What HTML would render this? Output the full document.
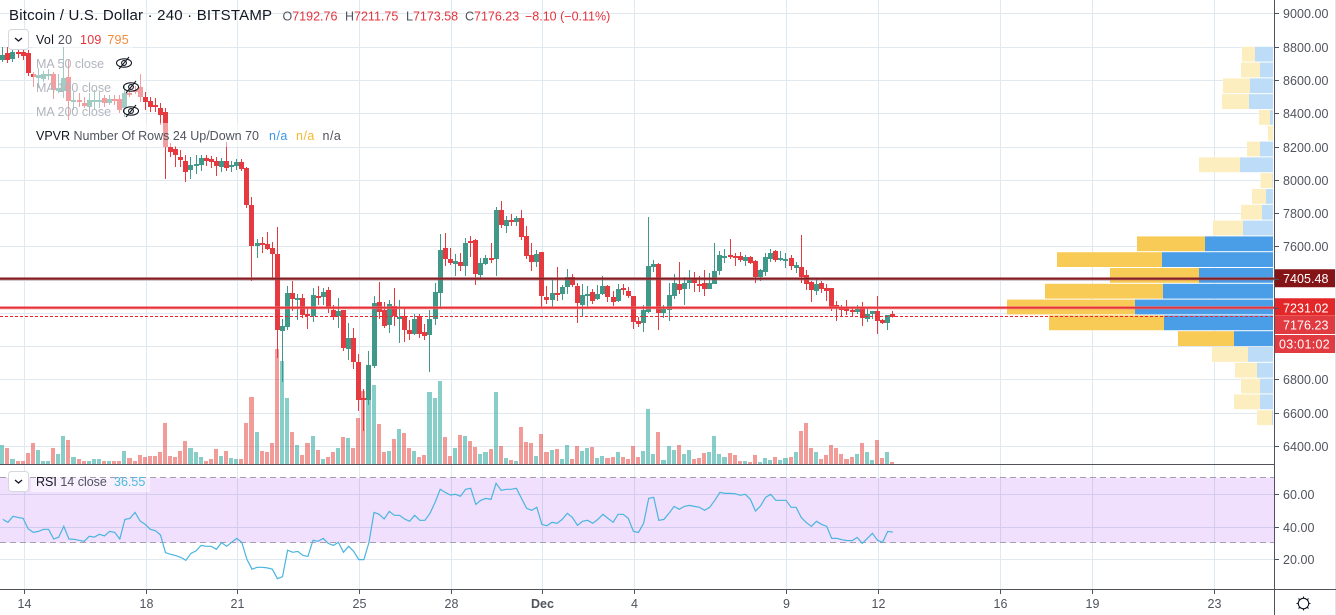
<!DOCTYPE html>
<html lang="en">
<head>
<meta charset="utf-8">
<title>Bitcoin / U.S. Dollar 240 BITSTAMP</title>
<style>
html,body{margin:0;padding:0;background:#fff;width:1336px;height:615px;overflow:hidden}
svg{display:block;font-family:"Liberation Sans","DejaVu Sans",sans-serif}
#grid-layer{mix-blend-mode:multiply}
</style>
</head>
<body>
<svg id="chart" xmlns="http://www.w3.org/2000/svg" width="1336" height="615" viewBox="0 0 1336 615">
  <rect x="0" y="0" width="1336" height="615" fill="#ffffff"/>
  <g id="rsi-band-layer"></g>
  <g id="grid-layer"></g>
  <g id="volume-layer"></g>
  <g id="vpvr-layer"></g>
  <g id="candle-layer"></g>
  <g id="legend-backs">
    <rect x="33" y="29" width="100" height="22" fill="#fff" fill-opacity=".5"/>
    <rect x="33" y="51" width="110" height="72" fill="#fff" fill-opacity=".5"/>
    <rect x="33" y="123" width="317" height="24" fill="#fff" fill-opacity=".5"/>
    <rect x="31" y="471" width="119" height="21" fill="#fff" fill-opacity=".5"/>
  </g>
  <g id="level-layer"></g>
  <g id="rsi-layer"></g>
  <rect x="1274" y="0" width="62" height="615" fill="#ffffff"/>
  <rect x="0" y="589" width="1336" height="26" fill="#ffffff"/>
  <g id="axis-layer"></g>
  <g>
    <text x="9" y="20" font-size="15" letter-spacing=".2" fill="#131722">Bitcoin / U.S. Dollar · 240 · BITSTAMP</text>
    <text x="282.5" y="20.5" font-size="12.5" fill="#e5333c"><tspan fill="#50535e">O</tspan>7192.76</text>
    <text x="345" y="20.5" font-size="12.5" fill="#e5333c"><tspan fill="#50535e">H</tspan>7211.75</text>
    <text x="406" y="20.5" font-size="12.5" fill="#e5333c"><tspan fill="#50535e">L</tspan>7173.58</text>
    <text x="465" y="20.5" font-size="12.5" fill="#e5333c"><tspan fill="#50535e">C</tspan>7176.23</text>
    <text x="525" y="20.5" font-size="12.5" fill="#e5333c">−8.10 (−0.11%)</text>

    <g>
      <rect x="8.5" y="29.5" width="20" height="20" rx="3" fill="#fff" stroke="#d6d8e0"/>
      <polyline points="15,38 18.5,41 22,38" fill="none" stroke="#131722" stroke-width="1.3"/>
    </g>
    <text x="36" y="44" font-size="12.5" letter-spacing=".25" fill="#50535e"><tspan fill="#131722">Vol</tspan> 20 <tspan dx="4" fill="#e5333c">109</tspan> <tspan dx="2" fill="#f08a3c">795</tspan></text>
    <text x="36" y="68" font-size="12.5" fill="#b2b5be">MA 50 close</text>
    <text x="36" y="92" font-size="12.5" fill="#b2b5be">MA 100 close</text>
    <text x="36" y="116" font-size="12.5" fill="#b2b5be">MA 200 close</text>
    <g transform="translate(124,63)" fill="none" stroke="#131722" stroke-width="1.1">
      <ellipse cx="0" cy="0" rx="7.5" ry="4.2"/><circle cx="0" cy="0" r="2.4"/><line x1="-5" y1="6" x2="5" y2="-6"/>
    </g>
    <g transform="translate(131,87)" fill="none" stroke="#131722" stroke-width="1.1">
      <ellipse cx="0" cy="0" rx="7.5" ry="4.2"/><circle cx="0" cy="0" r="2.4"/><line x1="-5" y1="6" x2="5" y2="-6"/>
    </g>
    <g transform="translate(131,111)" fill="none" stroke="#131722" stroke-width="1.1">
      <ellipse cx="0" cy="0" rx="7.5" ry="4.2"/><circle cx="0" cy="0" r="2.4"/><line x1="-5" y1="6" x2="5" y2="-6"/>
    </g>
    <text x="36" y="140" font-size="12.5" fill="#50535e"><tspan fill="#131722">VPVR</tspan> Number Of Rows 24 Up/Down 70</text>
    <text x="269" y="140" font-size="12.5" letter-spacing=".5" fill="#3d96e6">n/a</text>
    <text x="296" y="140" font-size="12.5" letter-spacing=".5" fill="#f5b92e">n/a</text>
    <text x="322.5" y="140" font-size="12.5" letter-spacing=".5" fill="#50535e">n/a</text>

    <g>
      <rect x="8.5" y="471.5" width="20" height="20" rx="3" fill="#fff" stroke="#d6d8e0"/>
      <polyline points="15,480 18.5,483 22,480" fill="none" stroke="#131722" stroke-width="1.3"/>
    </g>
    <text x="36" y="486" font-size="12.5" fill="#50535e"><tspan fill="#131722">RSI</tspan> 14 close</text>
    <text x="114" y="486" font-size="12.5" fill="#4bbbd9">36.55</text>
  </g>
  <g transform="translate(1303.5,603.5)" fill="none" stroke="#131722">
    <circle cx="0" cy="0" r="5.2" stroke-width="1.1"/>
    <path d="M0-7V-5.2M0 5.2V7M-7 0H-5.2M5.2 0H7M-5 -5L-3.7 -3.7M3.7 3.7L5 5M5 -5L3.7 -3.7M-3.7 3.7L-5 5" stroke-width="1.1"/>
  </g>
</svg>
<script>
// ---- chart data ----
const opens = [8720,8762,8726,8768,8768,8762,8636,8612,8606,8624,8636,8534,8534,8618,8468,8480,8462,8438,8468,8474,8492,8462,8486,8486,8432,8522,8540,8558,8498,8474,8450,8432,8408,8197,8185,8137,8113,8059,8083,8089,8131,8125,8113,8077,8113,8077,8083,8107,8071,7849,7602,7620,7614,7590,7554,7091,7115,7320,7278,7290,7194,7181,7302,7296,7338,7218,7181,7218,6983,7049,6905,6689,6677,6881,7266,7218,7127,7242,7163,7181,7097,7073,7181,7085,7067,7163,7320,7590,7524,7494,7506,7482,7632,7638,7428,7494,7530,7524,7819,7722,7759,7747,7771,7662,7548,7506,7566,7296,7278,7320,7314,7356,7416,7362,7248,7302,7326,7284,7314,7362,7296,7272,7350,7332,7302,7151,7139,7206,7476,7494,7200,7218,7302,7374,7344,7380,7410,7374,7380,7344,7374,7452,7536,7548,7542,7542,7512,7536,7512,7416,7446,7524,7572,7518,7512,7530,7470,7476,7428,7386,7332,7380,7350,7350,7248,7236,7236,7218,7206,7236,7163,7194,7212,7157,7139,7192.76];
const highs = [8798,8798,8792,8798,8792,8780,8648,8672,8654,8666,8648,8636,8798,8720,8528,8522,8498,8522,8540,8528,8510,8510,8510,8510,8570,8540,8564,8636,8528,8498,8492,8462,8432,8221,8203,8179,8149,8137,8149,8149,8149,8143,8137,8131,8227,8113,8125,8125,8077,7897,7644,7656,7686,7626,7716,7163,7362,7392,7314,7314,7230,7350,7362,7350,7356,7248,7290,7218,7139,7109,6953,6743,6971,7302,7386,7266,7278,7350,7278,7236,7157,7194,7194,7133,7218,7380,7674,7680,7590,7554,7560,7650,7662,7644,7530,7548,7620,7837,7873,7783,7795,7783,7819,7722,7620,7578,7566,7362,7398,7476,7368,7464,7434,7380,7374,7362,7344,7368,7422,7368,7332,7374,7374,7356,7302,7175,7248,7777,7518,7500,7248,7380,7434,7506,7416,7458,7446,7422,7458,7440,7620,7572,7584,7644,7560,7566,7548,7542,7518,7464,7560,7584,7578,7572,7560,7548,7506,7668,7458,7392,7404,7392,7374,7350,7272,7248,7278,7236,7248,7266,7230,7212,7302,7163,7187,7211.75];
const lows = [8708,8702,8708,8732,8720,8624,8558,8552,8588,8600,8486,8522,8492,8360,8420,8438,8432,8408,8420,8432,8438,8450,8450,8402,8378,8498,8516,8468,8420,8408,8408,8330,8005,8137,8077,8077,7987,8005,8035,8053,8083,8071,8023,8047,8053,8047,8059,8053,7831,7392,7530,7560,7578,7398,6929,6785,7097,7212,7157,7169,7103,7145,7248,7248,7200,7157,7109,6971,6917,6863,6610,6490,6646,6869,7163,7109,7079,7121,7019,7025,7037,7067,7049,7037,6845,7127,7224,7482,7488,7422,7452,7422,7536,7368,7410,7488,7500,7422,7710,7680,7722,7722,7638,7524,7452,7476,7236,7254,7236,7272,7278,7314,7356,7139,7181,7230,7254,7278,7308,7266,7242,7266,7308,7290,7103,7115,7085,7200,7446,7097,7169,7151,7284,7314,7248,7344,7326,7326,7302,7344,7374,7428,7500,7524,7482,7506,7482,7494,7380,7392,7422,7506,7506,7512,7470,7458,7440,7380,7338,7266,7308,7320,7272,7212,7151,7175,7187,7175,7194,7121,7145,7163,7073,7133,7097,7173.58];
const closes = [8750,8720,8768,8756,8744,8642,8618,8630,8636,8636,8540,8552,8612,8474,8480,8468,8444,8480,8480,8480,8462,8486,8474,8420,8522,8510,8528,8498,8468,8438,8438,8390,8197,8167,8149,8119,8047,8089,8095,8131,8113,8107,8083,8113,8071,8089,8107,8065,7849,7602,7620,7608,7584,7554,7097,7121,7320,7284,7290,7187,7181,7308,7296,7326,7230,7175,7212,6989,7049,6905,6677,6677,6887,7260,7206,7121,7254,7181,7175,7097,7073,7163,7073,7061,7163,7326,7578,7524,7500,7512,7482,7620,7620,7434,7500,7530,7518,7819,7728,7759,7747,7771,7656,7542,7506,7554,7302,7278,7320,7308,7356,7416,7368,7260,7308,7314,7272,7314,7362,7296,7266,7344,7338,7302,7145,7133,7218,7482,7494,7200,7224,7308,7380,7338,7380,7398,7380,7368,7344,7380,7452,7548,7542,7536,7536,7518,7536,7500,7416,7458,7536,7560,7518,7530,7524,7482,7488,7416,7374,7338,7374,7344,7332,7230,7230,7218,7212,7206,7224,7169,7194,7212,7151,7139,7187,7176.23];
const volumes = [1900,1600,500,300,300,1100,2100,1400,300,300,1600,1000,2800,2400,700,500,300,300,500,500,300,300,300,300,1300,600,300,900,700,800,800,1200,4100,800,700,1300,2300,1600,1200,700,300,500,1500,800,1300,600,500,500,4100,6700,3200,1300,1200,2100,11500,10300,6600,3200,1900,900,2100,2800,1400,500,700,1200,1600,2700,2600,1600,4600,7300,8900,7900,4000,1200,1300,2500,3500,3100,1600,1300,700,900,7200,6600,8300,2700,800,1600,2900,2800,2300,1700,1000,1200,1500,7200,1800,600,400,300,3700,2200,2100,800,3000,1200,1400,1500,500,1900,500,1800,1300,1600,1700,600,800,600,700,1200,700,500,1800,700,1300,5500,1000,3200,400,1800,1400,1900,1000,1400,500,600,1100,1200,2800,1000,700,1100,900,300,300,200,900,200,600,400,700,400,600,700,1200,3300,4100,1600,1200,500,900,1900,1600,1000,500,700,1000,2100,1200,400,2400,600,1200,200];
const rsiValues = [44.4,42.6,46.3,45.6,45.0,38.5,36.4,37.0,38.3,38.3,32.3,33.5,40.1,32.3,32.1,31.5,30.9,34.0,33.5,35.2,34.2,37.0,36.4,32.3,44.4,45.0,48.7,43.4,41.3,38.3,37.4,34.8,23.9,22.9,22.1,21.0,19.2,23.5,25.0,28.4,27.8,27.8,26.0,30.1,27.8,30.3,32.7,30.3,19.8,13.7,14.9,14.9,14.5,13.7,7.9,9.1,25.4,24.1,24.7,22.3,21.6,31.5,30.9,32.7,29.6,28.4,30.3,24.1,27.8,24.7,19.6,19.6,30.3,48.7,47.5,44.6,49.3,46.9,46.9,44.6,43.2,46.9,43.8,43.8,48.1,54.9,62.9,61.0,59.4,59.8,58.6,62.9,63.5,53.6,56.1,57.3,56.7,66.6,62.3,62.9,62.9,63.5,57.3,51.2,50.0,51.8,41.3,40.5,42.6,42.0,44.4,48.1,45.6,40.7,43.2,43.8,42.0,44.4,47.5,45.0,42.6,47.5,47.5,45.0,37.0,36.4,42.0,57.3,58.0,43.8,44.4,48.1,52.4,50.6,52.4,53.0,52.4,51.8,50.0,51.8,56.1,61.0,60.4,60.4,60.2,59.2,59.8,56.7,49.5,52.6,58.0,59.8,56.1,56.1,56.1,51.8,51.8,45.6,42.4,40.1,43.2,41.3,40.1,32.7,32.7,31.9,31.3,31.3,33.3,29.6,32.7,35.8,31.5,30.3,37.0,36.55];
const profileUp = [720,520,920,960,120,0,520,1320,20,280,440,1200,2720,4440,2960,4400,5520,4360,1560,1000,640,520,520,40];
const profileDown = [520,760,1080,1080,440,200,520,1640,480,560,840,1200,2720,4200,3560,4720,5120,4600,2240,1440,880,760,1040,600];
const valueAreaRows = [12,13,14,15,16,17,18];
const priceTicks = ["9000.00","8800.00","8600.00","8400.00","8200.00","8000.00","7800.00","7600.00","6800.00","6600.00","6400.00"];
const gridPrices = [9000,8800,8600,8400,8200,8000,7800,7600,7400,7200,7000,6800,6600,6400];
const rsiTicks = ["60.00","40.00","20.00"];
const timeLabels = ["14","18","21","25","28","Dec","4","9","12","16","19","23"];
const timeBars = [4,28,46,70,88,106,124,154,172,196,214,238];
const levelPrices = [7405.48,7231.02];
const levelLabels = ["7405.48","7231.02"];
const lastPrice = 7176.23;
const lastLabel = "7176.23";
const countdownLabel = "03:01:02";

// ---- axis functions ----
const xBar = i => 2.8 + 5.0855 * i;
const yPrice = p => 446 - (p - 6400) * 0.16635;
const yVolume = v => 464 - v / 100;
const yRsi = r => 559 - (r - 20) * 1.625;
const xProfile = v => 1273 - v * 0.025;
const leftOf = i => Math.round(xBar(i) - 2.5);
const tickX = i => Math.floor(xBar(i) + 1) + 0.5;
const profileTop = 8800, profileStep = 95;

const NS = "http://www.w3.org/2000/svg";
function mk(tag, parent, attrs, text) {
  const el = document.createElementNS(NS, tag);
  for (const k in attrs) el.setAttribute(k, attrs[k]);
  if (text !== undefined) el.textContent = text;
  parent.appendChild(el);
  return el;
}
const $ = id => document.getElementById(id);
const gridColor = "#dfe9f1";
let el;

// grid
const grid = $("grid-layer");
gridPrices.forEach(p => {
  el = mk("line", grid, {x1:0, x2:1274, y1:Math.round(yPrice(p)) + .5, y2:Math.round(yPrice(p)) + .5, stroke:gridColor});
  
  
});
timeBars.forEach(b => {
  el = mk("line", grid, {x1:tickX(b), x2:tickX(b), y1:0, y2:589, stroke:gridColor});
  
  
});
rsiTicks.forEach(t => {
  const y = Math.round(yRsi(parseFloat(t))) + .5;
  el = mk("line", grid, {x1:0, x2:1274, y1:y, y2:y, stroke:gridColor});
  
  
});

// rsi band (drawn under the grid so grid lines show through)
const band = $("rsi-band-layer");
el = mk("rect", band, {x:0, y:yRsi(70), width:1274, height:yRsi(30) - yRsi(70), fill:"#f0e0fd"});



// bars
const volLayer = $("volume-layer"), candleLayer = $("candle-layer");
const upColor = "#409888", downColor = "#e43a40";
opens.forEach((o, i) => {
  const c = closes[i], up = c >= o;
  const left = leftOf(i);
  const nextLeft = leftOf(i + 1);
  const color = up ? upColor : downColor;

  el = mk("rect", volLayer, {x:left, y:yVolume(volumes[i]), width:Math.max(nextLeft - left - 1, 4), height:464 - yVolume(volumes[i]),
    fill: up ? "#26a69a" : "#e53935", "fill-opacity": up ? .55 : .5, "shape-rendering":"crispEdges"});
  
  

  el = mk("rect", candleLayer, {x:left + 2, y:yPrice(highs[i]), width:1, height:yPrice(lows[i]) - yPrice(highs[i]), fill:color, "shape-rendering":"crispEdges"});
  
  

  const top = yPrice(Math.max(o, c)), bot = yPrice(Math.min(o, c));
  el = mk("rect", candleLayer, {x:left, y:top, width:5, height:Math.max(bot - top, 2), fill:color, "shape-rendering":"crispEdges"});
  
  
});

// volume profile
const vp = $("vpvr-layer");
profileUp.forEach((u, r) => {
  const d = profileDown[r];
  const inVA = valueAreaRows.includes(r);
  const y = yPrice(profileTop - profileStep * r);
  const h = profileStep * 0.16635 - 1;
  el = mk("rect", vp, {x:xProfile(u), y:y, width:1273 - xProfile(u), height:h, fill: inVA ? "#4a9ee8" : "#bcdcf7"});
  
  
  el = mk("rect", vp, {x:xProfile(u + d), y:y, width:xProfile(u) - xProfile(u + d), height:h, fill: inVA ? "#f8cb56" : "#fdeebf"});
  
  
});

// horizontal levels
const lv = $("level-layer");
const levelHalo = ["#a34a4e", "#ee6a6f"], levelCore = ["#7d1518", "#e5282f"];
levelPrices.forEach((p, k) => {
  const y = yPrice(p);
  el = mk("line", lv, {x1:0, x2:1274, y1:y, y2:y, stroke:levelHalo[k], "stroke-width":3, "stroke-opacity":.85});
  
  
  el = mk("line", lv, {x1:0, x2:1274, y1:y, y2:y, stroke:levelCore[k], "stroke-width":1.2});
  
  
});
el = mk("line", lv, {x1:0, x2:1274, y1:Math.floor(yPrice(lastPrice)) + .5, y2:Math.floor(yPrice(lastPrice)) + .5, stroke:"#f0202c", "stroke-dasharray":"3 2"});



// rsi
const rsi = $("rsi-layer");
[70, 30].forEach(v => {
  const y = Math.round(yRsi(v)) - .5;
  el = mk("line", rsi, {x1:0, x2:1274, y1:y, y2:y, stroke:"#a89cae", "stroke-dasharray":"6 4"});
  
  
});
el = mk("polyline", rsi, {points:rsiValues.map((v, i) => xBar(i).toFixed(1) + "," + yRsi(v).toFixed(1)).join(" "), fill:"none", stroke:"#4ab5e0", "stroke-width":1.2});



// axes
const ax = $("axis-layer");
const axisDark = "#50535e";
el = mk("rect", ax, {x:1335, y:0, width:1, height:615, fill:"#e0e3eb"});


el = mk("line", ax, {x1:1274.5, x2:1274.5, y1:0, y2:615, stroke:axisDark});


el = mk("line", ax, {x1:0, x2:1274, y1:464.5, y2:464.5, stroke:axisDark});


el = mk("line", ax, {x1:0, x2:1336, y1:589.5, y2:589.5, stroke:axisDark});



function axisTick(y) {
  el = mk("line", ax, {x1:1275, x2:1279, y1:y, y2:y, stroke:axisDark});
  
  
}
function axisText(label, y, fill) {
  el = mk("text", ax, {x:1283, y:y + 4.5, "font-size":12.5, fill:fill, "letter-spacing":".05"}, label);
  
  
}
priceTicks.forEach(t => {
  const y = Math.round(yPrice(parseFloat(t))) + .5;
  axisTick(y);
  axisText(t, y, axisDark);
});
rsiTicks.forEach(t => {
  const y = Math.round(yRsi(parseFloat(t))) + .5;
  axisTick(y);
  axisText(t, y, axisDark);
});
const levelBg = ["#851416", "#e32728"];
const levelTagH = [18, 17.5];
levelPrices.forEach((p, k) => {
  const y = yPrice(p);
  el = mk("rect", ax, {x:1275, y:y - 9.5, width:60, height:levelTagH[k], fill:levelBg[k]});
  
  
  axisTick(Math.round(y) + .5);
  axisText(levelLabels[k], y, "#ffffff");
});
el = mk("rect", ax, {x:1275, y:316, width:60, height:18, fill:"#e23a41"});


axisText(lastLabel, yPrice(lastPrice) + 8, "#ffffff");
el = mk("rect", ax, {x:1275, y:335, width:60, height:18, fill:"#e23a41"});


el = mk("text", ax, {x:1279, y:348.5, "font-size":12.5, fill:"#ffffff", "letter-spacing":".3"}, countdownLabel);



timeBars.forEach((b, k) => {
  const x = tickX(b);
  el = mk("line", ax, {x1:x, x2:x, y1:590, y2:594, stroke:axisDark});
  
  
  const isMonth = isNaN(parseInt(timeLabels[k], 10));
  el = mk("text", ax, {x:x, y:608, "font-size":12.5, "text-anchor":"middle", fill:axisDark, "font-weight": isMonth ? "bold" : "normal"}, timeLabels[k]);
  
  
});
</script>
</body>
</html>
